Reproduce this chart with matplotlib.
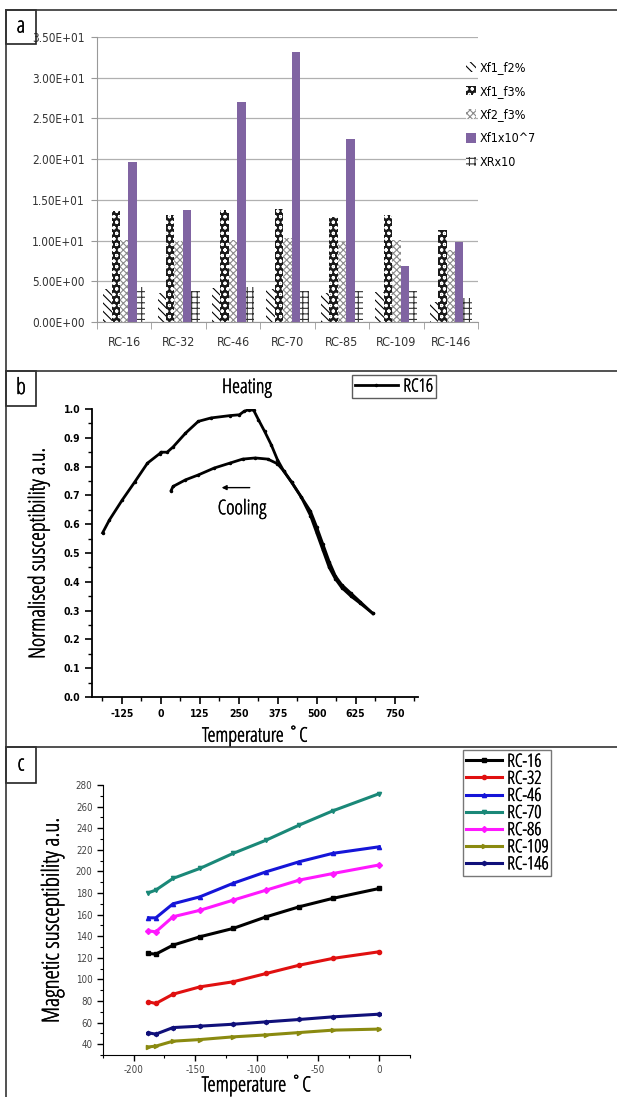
import numpy as np
import matplotlib.pyplot as plt
import matplotlib.patheffects as pe
from matplotlib.lines import Line2D
from matplotlib.patches import Rectangle, Patch
from matplotlib.ticker import MultipleLocator

plt.rcParams['font.family'] = ['DejaVu Sans']
plt.rcParams['font.stretch'] = 'condensed'
plt.rcParams['hatch.linewidth'] = 0.8
plt.rcParams['axes.unicode_minus'] = False

# narrow font for the Origin style labels, stroked a little to look regular weight
NARROW = dict(family='Open Sans', stretch='condensed',
              path_effects=[pe.withStroke(linewidth=0.35, foreground='black')])

W, H = 617, 1097

# ---- panel a data ----
samples = ['RC-16', 'RC-32', 'RC-46', 'RC-70', 'RC-85', 'RC-109', 'RC-146']
xf1_f2 = [4.1, 3.6, 4.2, 4.0, 3.55, 3.7, 2.5]
xf1_f3 = [13.6, 13.15, 13.75, 13.9, 12.9, 13.2, 11.3]
xf2_f3 = [10.1, 9.9, 10.1, 10.3, 9.8, 10.1, 8.9]
xf1_e7 = [19.7, 13.7, 27.0, 33.2, 22.5, 6.9, 9.85]
xr_10 = [4.25, 3.85, 4.25, 3.85, 3.85, 3.85, 3.0]
bar_names = ['Xf1_f2%', 'Xf1_f3%', 'Xf2_f3%', 'Xf1x10^7', 'XRx10']

# ---- panel b data ----
heat_T = [-187, -165, -124, -83, -43, -4, 0, 20, 39, 79, 120, 161, 221, 252, 267,
          283, 298, 313, 333, 354, 374, 394, 420, 450, 480, 500, 520, 540, 560,
          580, 610, 640, 680]
heat_chi = [0.57, 0.615, 0.684, 0.748, 0.812, 0.845, 0.85, 0.85, 0.868, 0.916,
            0.957, 0.969, 0.977, 0.98, 0.992, 0.998, 0.995, 0.963, 0.922, 0.876,
            0.824, 0.785, 0.745, 0.695, 0.63, 0.57, 0.51, 0.45, 0.41, 0.38, 0.35,
            0.325, 0.29]
cool_T = [680, 640, 610, 580, 560, 540, 520, 500, 480, 450, 420, 394, 374, 343,
          303, 262, 221, 171, 120, 79, 39, 33]
cool_chi = [0.29, 0.33, 0.36, 0.39, 0.42, 0.47, 0.53, 0.59, 0.645, 0.695, 0.745,
            0.785, 0.81, 0.826, 0.83, 0.826, 0.812, 0.795, 0.771, 0.754, 0.731, 0.717]

# ---- panel c data ----
low_T = [-188, -182, -168, -146, -119, -92, -65, -38, 0]
rc16 = [124, 123.4, 131.7, 139.5, 147.2, 158, 167.3, 175, 184.2]
rc32 = [79.2, 77.7, 86.3, 93.1, 97.8, 105.5, 113.2, 119.4, 125.6]
rc46 = [157, 157, 170, 176.5, 189, 199.7, 209, 216.7, 222.8]
rc70 = [180.2, 182.7, 193.5, 202.8, 216.7, 229, 243, 256, 272]
rc86 = [145, 144, 158, 164, 173.4, 182.7, 192, 198, 206]
rc109 = [37.5, 38.2, 42.8, 44.3, 46.8, 48.6, 50.8, 53, 54]
rc146 = [50.5, 49.3, 55.4, 56.7, 58.5, 60.7, 62.9, 65.3, 67.8]
low_names = ['RC-16', 'RC-32', 'RC-46', 'RC-70', 'RC-86', 'RC-109', 'RC-146']


def fbox(l, t, r, b):
    return [l / W, 1 - b / H, (r - l) / W, (b - t) / H]


def narrow_legend_text(leg):
    for t in leg.get_texts():
        t.set_path_effects(NARROW['path_effects'])


fig = plt.figure(figsize=(W / 100, H / 100), dpi=100)

# frame lines and panel label boxes
for (x0, y0, x1, y1) in [(6, 10, W, 10), (6, 10, 6, H), (6, 371, W, 371), (6, 747, W, 747)]:
    fig.add_artist(Line2D([x0 / W, x1 / W], [1 - y0 / H, 1 - y1 / H],
                          transform=fig.transFigure, color='#333333', lw=1.2))
for lab, top, bot in [('a', 10, 44), ('b', 371, 406), ('c', 747, 783)]:
    fig.add_artist(Rectangle((6 / W, 1 - bot / H), 30 / W, (bot - top) / H,
                             transform=fig.transFigure, fill=False, ec='#222222', lw=1.2))
    fig.text(21 / W, 1 - (top + bot) / 2 / H, lab, ha='center', va='center',
             fontsize=16, **NARROW)

# ================= panel a =================
ax1 = fig.add_axes(fbox(97, 37, 478, 322))
x = np.arange(len(samples))
bw = 0.155
styles = [
    dict(facecolor='white', edgecolor='black', hatch='\\\\\\\\'),
    dict(facecolor='#1a1a1a', edgecolor='white', hatch='ooo'),
    dict(facecolor='white', edgecolor='#8a8a8a', hatch='xxxxx'),
    dict(facecolor='#8064A2', edgecolor='#8064A2', hatch=None),
    dict(facecolor='white', edgecolor='#333333', hatch='+++'),
]
series = [xf1_f2, xf1_f3, xf2_f3, xf1_e7, xr_10]
handles = []
for i, (vals, st) in enumerate(zip(series, styles)):
    ax1.bar(x + (i - 2) * bw, vals, bw, linewidth=0, zorder=2, **st)
    handles.append(Patch(linewidth=0, **st))
ax1.set_ylim(0, 35)
ax1.set_xlim(-0.5, 6.5)
ax1.set_yticks(np.arange(0, 36, 5))
ax1.set_yticklabels(['%.2fE+%02d' % (v / 10 if v >= 10 else v, 1 if v >= 10 else 0)
                     for v in np.arange(0, 36, 5)], fontsize=8.5, color='#333333')
ax1.set_xticks(x)
ax1.set_xticklabels(samples, fontsize=9, color='#333333')
ax1.set_xticks(np.arange(-0.5, 7, 1), minor=True)
ax1.tick_params(axis='x', which='major', length=0, pad=10)
ax1.tick_params(axis='x', which='minor', length=5, color='#999999')
ax1.tick_params(axis='y', length=4, color='#999999', pad=5)
ax1.yaxis.grid(True, color='#b0b0b0', lw=0.9, zorder=0)
for s in ['top', 'right']:
    ax1.spines[s].set_visible(False)
ax1.spines['left'].set_color('#999999')
ax1.spines['bottom'].set_color('#999999')
fig.legend(handles, bar_names, loc='upper left', bbox_to_anchor=(455 / W, 1 - 50 / H),
           frameon=False, fontsize=9, handlelength=0.8, handleheight=0.8,
           handletextpad=0.3, labelspacing=0.85)

# ================= panel b =================
ax2 = fig.add_axes(fbox(92, 409, 418, 697))
ax2.plot(heat_T, heat_chi, color='black', lw=2, marker='.', ms=3)
ax2.plot(cool_T, cool_chi, color='black', lw=2, marker='.', ms=3, label='RC16')
ax2.set_xlim(-221, 825)
ax2.set_ylim(0, 1.0)
ax2.set_xticks([-125, 0, 125, 250, 375, 500, 625, 750])
ax2.set_yticks(np.arange(0, 1.01, 0.1))
ax2.set_yticklabels(['%.1f' % v for v in np.arange(0, 1.01, 0.1)])
ax2.xaxis.set_minor_locator(MultipleLocator(62.5))
ax2.yaxis.set_minor_locator(MultipleLocator(0.05))
ax2.tick_params(which='major', direction='out', length=5, width=1.2, labelsize=7.5)
ax2.tick_params(which='minor', direction='out', length=3, width=1)
for lbl in ax2.get_xticklabels() + ax2.get_yticklabels():
    lbl.set_fontweight('bold')
for s in ['top', 'right']:
    ax2.spines[s].set_visible(False)
for s in ['left', 'bottom']:
    ax2.spines[s].set_linewidth(1.3)
ax2.set_ylabel('Normalised susceptibility a.u.', fontsize=16, labelpad=10, **NARROW)
ax2.set_xlabel('Temperature ˚C', fontsize=14.5, labelpad=5, **NARROW)
ax2.annotate('', xy=(186, 0.727), xytext=(294, 0.727),
             arrowprops=dict(arrowstyle='-|>', color='black', lw=1, mutation_scale=7))
ax2.text(260, 0.652, 'Cooling', ha='center', va='center', fontsize=14.5, **NARROW)
fig.text(247 / W, 1 - 388 / H, 'Heating', ha='center', va='center', fontsize=14.5, **NARROW)
leg_b = ax2.legend(loc='center', bbox_to_anchor=(0.926, 1.078), frameon=True,
                   prop=dict(size=13, family='Open Sans', stretch='condensed'),
                   fancybox=False, edgecolor='#333333', handlelength=2.4, borderpad=0.15,
                   handletextpad=0.3)
narrow_legend_text(leg_b)

# ================= panel c =================
ax3 = fig.add_axes(fbox(103, 785, 410, 1055))
colors = ['black', '#e01010', '#1515d8', '#1a8878', '#ff18ff', '#8a8a10', '#10107a']
markers = ['s', 'o', '^', 'v', 'D', '>', 'h']
for vals, name, c, m in zip([rc16, rc32, rc46, rc70, rc86, rc109, rc146],
                            low_names, colors, markers):
    ax3.plot(low_T, vals, color=c, lw=2.2, marker=m, ms=3, label=name)
ax3.set_xlim(-225, 25)
ax3.set_ylim(30, 280)
ax3.set_xticks([-200, -150, -100, -50, 0])
ax3.set_yticks(np.arange(40, 281, 20))
ax3.xaxis.set_minor_locator(MultipleLocator(25))
ax3.yaxis.set_minor_locator(MultipleLocator(10))
ax3.tick_params(which='major', direction='out', length=4, width=1, labelsize=7,
                labelcolor='#444444')
ax3.tick_params(which='minor', direction='out', length=2.5, width=0.8)
for s in ['top', 'right']:
    ax3.spines[s].set_visible(False)
ax3.set_ylabel('Magnetic susceptibility a.u.', fontsize=17, labelpad=8, **NARROW)
ax3.set_xlabel('Temperature ˚C', fontsize=15, labelpad=0, **NARROW)
leg_c = fig.legend(loc='upper left', bbox_to_anchor=(463 / W, 1 - 750 / H),
                   prop=dict(size=13, family='Open Sans', stretch='condensed'),
                   handles=ax3.get_lines(), labels=low_names, frameon=True, fancybox=False,
                   edgecolor='#555555', handlelength=2.0, borderpad=0.15, labelspacing=-0.05,
                   handletextpad=0.3, borderaxespad=0)
narrow_legend_text(leg_c)

fig.savefig('out.png', dpi=100)
